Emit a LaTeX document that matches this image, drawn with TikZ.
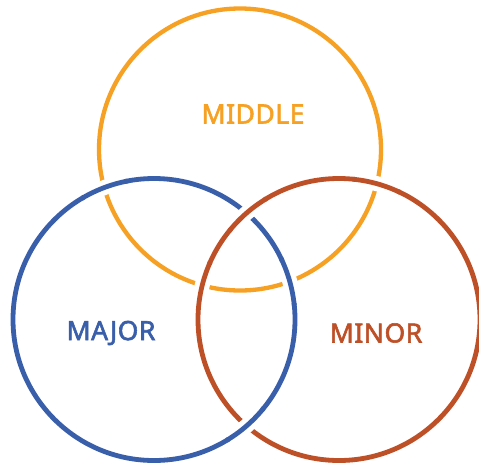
\documentclass[tikz,border=0pt]{standalone}
\usepackage{fontspec}
\usetikzlibrary{calc}
\newfontfamily\labfont{Noto Sans}[FakeBold=2.2, LetterSpace=2]
\definecolor{cmid}{RGB}{247,161,36}
\definecolor{cmaj}{RGB}{57,94,170}
\definecolor{cmin}{RGB}{190,80,40}
\tikzset{
  ring/.style={line width=4.8pt},
  midring/.style={line width=4.3pt},
  gapback/.style={line width=15pt, draw=white},
  lab/.style={font=\labfont\fontsize{26.5}{28}\selectfont, inner sep=0pt, anchor=center}
}
\begin{document}
\begin{tikzpicture}[x=1pt,y=-1pt]
\useasboundingbox (0,0) rectangle (479,464);
\fill[white] (0,0) rectangle (479,464);
\coordinate (O) at (240,149.5);
\coordinate (B) at (154,319.5);
\coordinate (R) at (339,319.5);
% full circles
\draw[midring, cmid] (O) circle[radius=141];
\draw[ring, cmaj] (B) circle[radius=141];
\draw[ring, cmin] (R) circle[radius=141];
% blue over crossings
\foreach \a in {249.3,-15.7,49} {
  \draw[gapback] ($(B)+(\a-9:141)$) arc[start angle=\a-9, end angle=\a+9, radius=141];
  \draw[ring, cmaj] ($(B)+(\a-10:141)$) arc[start angle=\a-10, end angle=\a+10, radius=141];
}
% red over crossings
\foreach \a in {-74.4,194,-131} {
  \draw[gapback] ($(R)+(\a-9:141)$) arc[start angle=\a-9, end angle=\a+9, radius=141];
  \draw[ring, cmin] ($(R)+(\a-10:141)$) arc[start angle=\a-10, end angle=\a+10, radius=141];
}
\node[lab, text=cmid] (middle) at (253,114) {MIDDLE};
\node[lab, text=cmaj] (major) at (111,333) {MAJOR};
\node[lab, text=cmin] (minor) at (376,333) {MINOR};
\end{tikzpicture}
\end{document}
